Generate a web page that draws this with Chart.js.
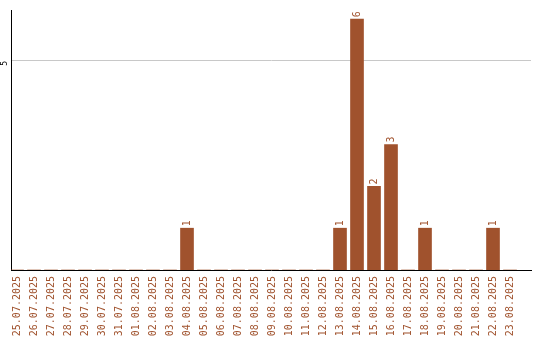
<!DOCTYPE html>
<html>
<head>
<meta charset="utf-8">
<script src="https://cdn.jsdelivr.net/npm/chart.js@4/dist/chart.umd.min.js"></script>
<style>
html,body{margin:0;padding:0;background:#fff;}
canvas{display:block;}
</style>
</head>
<body>
<canvas id="c" width="540" height="340"></canvas>
<script>
const categories = ["25.07.2025","26.07.2025","27.07.2025","28.07.2025","29.07.2025","30.07.2025","31.07.2025","01.08.2025","02.08.2025","03.08.2025","04.08.2025","05.08.2025","06.08.2025","07.08.2025","08.08.2025","09.08.2025","10.08.2025","11.08.2025","12.08.2025","13.08.2025","14.08.2025","15.08.2025","16.08.2025","17.08.2025","18.08.2025","19.08.2025","20.08.2025","21.08.2025","22.08.2025","23.08.2025"];
const counts = [0,0,0,0,0,0,0,0,0,0,1,0,0,0,0,0,0,0,0,1,6,2,3,0,1,0,0,0,1,0];
const yTicks = [5];

const BROWN = '#A0522D';
const MONO = '"DejaVu Sans Mono", "Liberation Mono", monospace';

const valueLabels = {
  id: 'valueLabels',
  afterDatasetsDraw(chart) {
    const ctx = chart.ctx;
    const meta = chart.getDatasetMeta(0);
    ctx.save();
    ctx.fillStyle = BROWN;
    ctx.font = '10px ' + MONO;
    ctx.textAlign = 'left';
    ctx.textBaseline = 'middle';
    meta.data.forEach((el, i) => {
      const v = counts[i];
      if (!v) return;
      ctx.save();
      ctx.translate(el.x, el.y - 2);
      ctx.rotate(-Math.PI / 2);
      ctx.fillText(String(v), 0, 0);
      ctx.restore();
    });
    ctx.restore();
  }
};

new Chart(document.getElementById('c'), {
  type: 'bar',
  data: {
    datasets: [{
      data: counts.map((v, i) => ({x: i, y: v})),
      backgroundColor: BROWN,
      borderWidth: 0,
      barThickness: 13
    }]
  },
  options: {
    responsive: false,
    animation: false,
    events: [],
    layout: {padding: {top: 10, right: 9, left: 0, bottom: 0}},
    plugins: {legend: {display: false}, tooltip: {enabled: false}},
    scales: {
      x: {
        type: 'linear',
        offset: false,
        min: -6/17,
        max: 30.235,
        grid: {display: false, offset: false},
        border: {display: true, color: '#000', width: 1},
        afterBuildTicks: (s) => { s.ticks = categories.map((_, i) => ({value: i})); },
        afterFit: (s) => { s.height = 70; s.paddingLeft = 0; s.paddingRight = 0; s.paddingTop = 0; s.paddingBottom = 0; },
        ticks: {
          autoSkip: false,
          minRotation: 90,
          maxRotation: 90,
          padding: -2,
          color: BROWN,
          font: {family: MONO, size: 10},
          callback: (v) => categories[v]
        }
      },
      y: {
        min: 0,
        max: 6.22,
        grid: {display: true, drawTicks: false, color: '#c8c8c8', lineWidth: 1},
        border: {display: true, color: '#000', width: 1},
        afterBuildTicks: (s) => { s.ticks = yTicks.map(v => ({value: v})); },
        afterFit: (s) => { s.width = 11; s.paddingTop = 0; s.paddingBottom = 0; },
        ticks: {
          minRotation: 90,
          maxRotation: 90,
          padding: 6,
          color: '#000',
          font: {family: MONO, size: 8}
        }
      }
    }
  },
  plugins: [valueLabels]
});
</script>
</body>
</html>
